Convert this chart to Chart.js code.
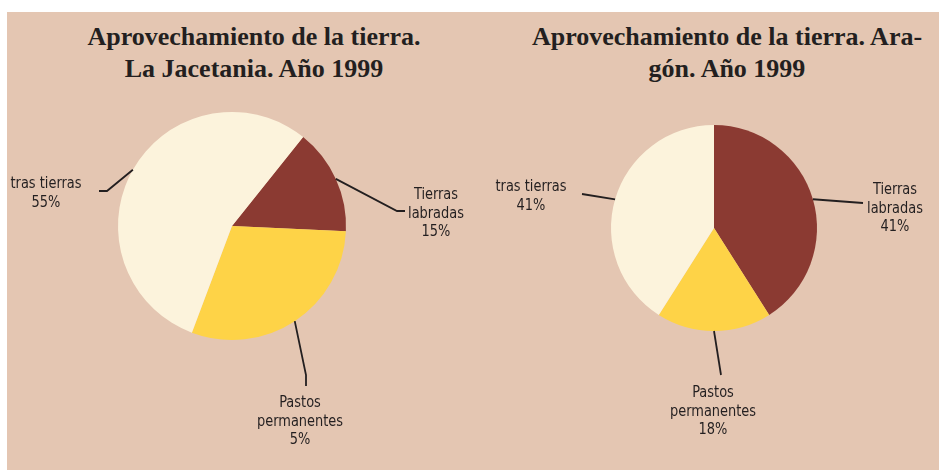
<!DOCTYPE html>
<html>
<head>
<meta charset="utf-8">
<script src="https://cdn.jsdelivr.net/npm/chart.js@4/dist/chart.umd.min.js"></script>
<style>
  html, body { margin: 0; padding: 0; background: #fff; }
  #wrap { position: relative; width: 939px; height: 471px; overflow: hidden; }
  #bg { position: absolute; left: 7px; top: 12px; width: 932px; height: 458px; background: #e4c6b2; }
  .title {
    position: absolute; top: 21px; width: 440px; text-align: center;
    font-family: "Liberation Serif", "DejaVu Serif", serif; font-weight: bold;
    font-size: 26px; line-height: 32px; color: #231f20;
  }
  canvas { position: absolute; top: 0; }
</style>
</head>
<body>
<div id="wrap">
  <div id="bg"></div>
  <div class="title" style="left:34px">Aprovechamiento de la tierra.<br>La Jacetania. Año 1999</div>
  <div class="title" style="left:507px">Aprovechamiento de la tierra. Ara-<br>gón. Año 1999</div>
  <div style="position:absolute;left:0;top:0;width:470px;height:471px"><canvas id="jacetania"></canvas></div>
  <div style="position:absolute;left:470px;top:0;width:469px;height:471px"><canvas id="aragon"></canvas></div>
</div>
<script>
  // categories (multi-line, as printed)
  const categories = [['Tierras', 'labradas'], ['Pastos', 'permanentes'], ['tras tierras']];

  // slice sizes as drawn
  const jacetaniaValues = [15, 30, 55];
  const aragonValues = [41, 18, 41];

  // percentages as printed on the labels
  const jacetaniaPct = ['15%', '5%', '55%'];
  const aragonPct = ['41%', '18%', '41%'];

  const sliceColors = ['#8b3a32', '#fed347', '#fcf3dc'];

  const leaderLabels = {
    id: 'leaderLabels',
    afterDatasetsDraw(chart, args, opts) {
      const ctx = chart.ctx;
      const arcs = chart.getDatasetMeta(0).data;
      ctx.save();
      ctx.strokeStyle = '#231f20';
      ctx.lineWidth = 1.8;
      ctx.fillStyle = '#231f20';
      ctx.font = '16px "Liberation Sans Narrow", "DejaVu Sans Condensed", sans-serif';
      ctx.textAlign = 'center';
      ctx.textBaseline = 'middle';
      const squeeze = 0.9; // the printed labels use a condensed face
      arcs.forEach((arc, i) => {
        const p = arc.getProps(['x', 'y', 'startAngle', 'endAngle', 'outerRadius'], true);
        const mid = (p.startAngle + p.endAngle) / 2;
        const item = opts.items[i];
        ctx.beginPath();
        ctx.moveTo(p.x + Math.cos(mid) * p.outerRadius, p.y + Math.sin(mid) * p.outerRadius);
        item.path.forEach(pt => ctx.lineTo(pt[0], pt[1]));
        ctx.stroke();
        const lines = [...chart.data.labels[i], opts.pct[i]];
        lines.forEach((t, k) => {
          ctx.save();
          ctx.translate(item.x, item.y + k * 18.5);
          ctx.scale(squeeze, 1);
          ctx.fillText(t, 0, 0);
          ctx.restore();
        });
      });
      ctx.restore();
    }
  };

  const makePie = (id, values, pct, rotation, padding, items) => new Chart(document.getElementById(id), {
    type: 'pie',
    data: {
      labels: categories,
      datasets: [{ data: values, backgroundColor: sliceColors, borderWidth: 0 }]
    },
    options: {
      responsive: true,
      maintainAspectRatio: false,
      animation: false,
      rotation: rotation,
      layout: { padding: padding },
      plugins: {
        legend: { display: false },
        tooltip: { enabled: false },
        leaderLabels: { pct: pct, items: items }
      }
    },
    plugins: [leaderLabels]
  });

  makePie('jacetania', jacetaniaValues, jacetaniaPct, 38.6,
    { left: 118, top: 112, right: 124, bottom: 131 },
    [
      { path: [[397, 211], [405, 211]], x: 436, y: 195 },
      { path: [[306, 375], [306, 386]], x: 300, y: 403 },
      { path: [[107, 191], [99, 191]], x: 46, y: 184 }
    ]);

  makePie('aragon', aragonValues, aragonPct, 0,
    { left: 141, top: 125, right: 122, bottom: 140 },
    [
      { path: [[393, 203]], x: 425, y: 190 },
      { path: [[251, 375]], x: 243, y: 393 },
      { path: [[112, 194]], x: 61, y: 187 }
    ]);
</script>
</body>
</html>
